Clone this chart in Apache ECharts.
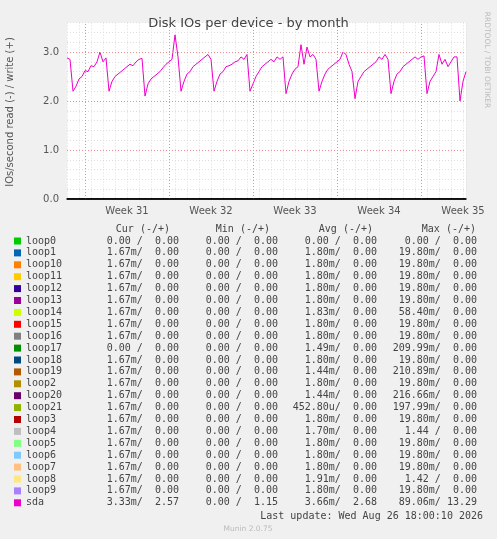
<!DOCTYPE html><html><head><meta charset="utf-8">
<script src="https://cdn.jsdelivr.net/npm/echarts@6/dist/echarts.min.js"></script>
<style>html,body{margin:0;background:#f0f0f0}#c{width:497px;height:539px}</style></head><body><div id="c"></div>
<script>
const sdaRead=[2.88,2.85,2.2,2.3,2.45,2.5,2.62,2.6,2.72,2.7,2.8,3.0,2.8,2.88,2.2,
2.4,2.5,2.55,2.6,2.65,2.7,2.75,2.72,2.8,2.85,2.87,2.1,
2.35,2.45,2.5,2.55,2.6,2.68,2.75,2.8,2.85,3.35,2.9,2.2,
2.4,2.55,2.6,2.7,2.75,2.8,2.85,2.9,2.95,2.85,2.2,
2.4,2.55,2.6,2.7,2.72,2.75,2.8,2.82,2.9,2.85,2.95,2.2,
2.35,2.5,2.6,2.7,2.75,2.8,2.85,2.8,2.9,2.85,2.9,2.15,
2.4,2.55,2.65,2.7,3.15,2.75,3.1,2.9,2.95,2.85,2.2,
2.4,2.55,2.65,2.7,2.75,2.8,2.85,3.0,2.95,2.75,2.6,2.05,
2.4,2.5,2.6,2.65,2.7,2.75,2.8,2.9,2.85,2.95,2.85,2.15,
2.4,2.55,2.6,2.7,2.75,2.8,2.85,2.9,2.85,2.9,2.92,2.15,
2.4,2.5,2.6,2.95,2.75,2.85,2.7,2.8,2.9,2.9,2.0,2.4,2.6];
const stepDays=0.25;
const weekStarts=[1.5,8.5,15.5,22.5,29.5];
const firstWeek=31, firstWeekLabelDay=5;
const names=['loop0','loop1','loop10','loop11','loop12','loop13','loop14','loop15','loop16','loop17','loop18','loop19','loop2','loop20','loop21','loop3','loop4','loop5','loop6','loop7','loop8','loop9','sda'];
const colors=['#00CC00','#0066B3','#FF8000','#FFCC00','#330099','#990099','#CCFF00','#FF0000','#808080','#008F00','#00487D','#B35A00','#B38F00','#6B006B','#8FB300','#B30000','#BEBEBE','#80FF80','#80C9FF','#FFC080','#FFE680','#AA80FF','#EE00CC'];
const curCol=['0.00 /  0.00','1.67m/  0.00','1.67m/  0.00','1.67m/  0.00','1.67m/  0.00','1.67m/  0.00','1.67m/  0.00','1.67m/  0.00','1.67m/  0.00','0.00 /  0.00','1.67m/  0.00','1.67m/  0.00','1.67m/  0.00','1.67m/  0.00','1.67m/  0.00','1.67m/  0.00','1.67m/  0.00','1.67m/  0.00','1.67m/  0.00','1.67m/  0.00','1.67m/  0.00','1.67m/  0.00','3.33m/  2.57'];
const minCol=Array(22).fill('0.00 /  0.00').concat(['0.00 /  1.15']);
const avgCol=['0.00 /  0.00','1.80m/  0.00','1.80m/  0.00','1.80m/  0.00','1.80m/  0.00','1.80m/  0.00','1.83m/  0.00','1.80m/  0.00','1.80m/  0.00','1.49m/  0.00','1.80m/  0.00','1.44m/  0.00','1.80m/  0.00','1.44m/  0.00','452.80u/  0.00','1.80m/  0.00','1.70m/  0.00','1.80m/  0.00','1.80m/  0.00','1.80m/  0.00','1.91m/  0.00','1.80m/  0.00','3.66m/  2.68'];
const maxCol=['0.00 /  0.00','19.80m/  0.00','19.80m/  0.00','19.80m/  0.00','19.80m/  0.00','19.80m/  0.00','58.40m/  0.00','19.80m/  0.00','19.80m/  0.00','209.99m/  0.00','19.80m/  0.00','210.89m/  0.00','19.80m/  0.00','216.66m/  0.00','197.99m/  0.00','19.80m/  0.00','1.44 /  0.00','19.80m/  0.00','19.80m/  0.00','19.80m/  0.00','1.42 /  0.00','19.80m/  0.00','89.06m/ 13.29'];

const F='"DejaVu Sans Mono", monospace', S='"DejaVu Sans", sans-serif';
const g=[];
const mono={fontFamily:F,fontSize:10,fill:'#444'};
const hdr=[['Cur (-/+)',170],['Min (-/+)',270],['Avg (-/+)',373],['Max (-/+)',476]];
hdr.forEach(h=>g.push({type:'text',x:h[1],y:229,style:Object.assign({text:h[0],textAlign:'right',textVerticalAlign:'middle'},mono)}));
names.forEach((n,i)=>{const y=241+i*11.9;
 g.push({type:'rect',shape:{x:14,y:y-3.5,width:7,height:7},style:{fill:colors[i]}});
 g.push({type:'text',x:26,y:y,style:Object.assign({text:n,textVerticalAlign:'middle'},mono)});
 [[curCol,179],[minCol,278],[avgCol,377],[maxCol,477]].forEach(c=>g.push({type:'text',x:c[1],y:y,style:Object.assign({text:c[0][i],textAlign:'right',textVerticalAlign:'middle'},mono)}));
});
g.push({type:'text',x:483,y:516,style:Object.assign({text:'Last update: Wed Aug 26 18:00:10 2026',textAlign:'right',textVerticalAlign:'middle'},mono)});
g.push({type:'text',x:248,y:529,style:{text:'Munin 2.0.75',textAlign:'center',textVerticalAlign:'middle',fontFamily:S,fontSize:7.5,fill:'#bbb'}});
g.push({type:'text',x:487,y:60,rotation:-Math.PI/2,style:{text:'RRDTOOL / TOBI OETIKER',textAlign:'center',textVerticalAlign:'middle',fontFamily:S,fontSize:7.5,fill:'#bbb'}});
g.push({type:'text',x:10,y:112,rotation:Math.PI/2,style:{text:'IOs/second read (-) / write (+)',textAlign:'center',textVerticalAlign:'middle',fontFamily:S,fontSize:10,fill:'#555'}});

const chart=echarts.init(document.getElementById('c'));
chart.setOption({
 backgroundColor:'#f0f0f0',animation:false,
 title:{text:'Disk IOs per device - by month',left:'center',top:12,textStyle:{fontFamily:S,fontSize:13,fontWeight:'normal',color:'#444'}},
 grid:{left:67,right:31,top:22.6,bottom:340,backgroundColor:'#fff',show:true,borderWidth:0},
 xAxis:{type:'value',min:0,max:33.25,interval:1,
  axisLine:{lineStyle:{color:'#000',width:1.5}},axisTick:{show:false},
  axisLabel:{fontFamily:S,fontSize:10,color:'#555',showMinLabel:true,showMaxLabel:false,margin:7,
   formatter:v=>((v-firstWeekLabelDay)%7===0?'Week '+(firstWeek+(v-firstWeekLabelDay)/7):'')},
  splitLine:{lineStyle:{color:'#ddd',type:[1,2]}}},
 yAxis:{type:'value',min:0,max:3.6,interval:0.2,axisLine:{show:false},axisTick:{show:false},
  axisLabel:{fontFamily:S,fontSize:10,color:'#555',formatter:v=>(Math.abs(v-Math.round(v))<1e-6&&v<3.5?v.toFixed(1):'')},
  splitLine:{lineStyle:{color:'#ddd',type:[1,2]}}},
 series:[{type:'line',data:sdaRead.map((v,i)=>[i*stepDays,v]),symbol:'none',lineStyle:{color:'#EE00CC',width:1},
  markLine:{silent:true,symbol:'none',label:{show:false},lineStyle:{color:'#e89090',type:[1,2],width:1},
   data:weekStarts.map(d=>({xAxis:d})).concat([1,2,3].map(v=>({yAxis:v})))}},
  {type:'line',data:sdaRead.map((v,i)=>[i*stepDays,0]),symbol:'none',lineStyle:{color:'#000',width:1.5},z:5}],
 graphic:g
});
</script></body></html>
